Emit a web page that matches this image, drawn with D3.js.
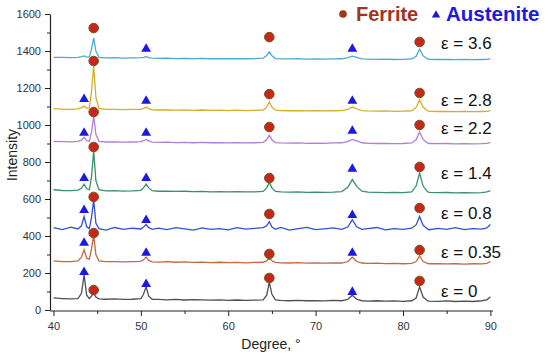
<!DOCTYPE html>
<html>
<head>
<meta charset="utf-8">
<script src="https://cdn.jsdelivr.net/npm/d3@7"></script>
<style>
  body { margin: 0; background: #fff; }
  svg { font-family: "Liberation Sans", Arial, sans-serif; }
</style>
</head>
<body>
<script>
// 2-theta grid shared by every pattern (denser around the peaks)
var degrees = [40, 41, 42, 42.8, 43.2, 43.5, 43.8, 44.1, 44.35, 44.6, 44.85, 45.2,
  46, 47, 48, 49, 50, 50.3, 50.6, 50.9, 51.3,
  52, 53, 54, 55, 56, 57, 58, 59, 60, 61, 62, 63, 64,
  64.4, 64.7, 65.0, 65.4, 66, 67, 68, 69, 70, 71, 72, 73,
  73.7, 74.2, 74.7, 75.3, 76, 77, 78, 79, 80, 81,
  81.5, 81.9, 82.3, 82.8, 83, 84, 85, 86, 87, 88, 89, 89.6, 90];

var strains = ["ε = 0", "ε = 0.35", "ε = 0.8", "ε = 1.4", "ε = 2.2", "ε = 2.8", "ε = 3.6"];

var eps0 = [65, 62, 60, 62, 90, 190, 80, 62, 75, 92, 70, 60,
  58, 60, 57, 58, 62, 85, 125, 75, 58,
  57, 55, 57, 54, 56, 55, 53, 55, 52, 54, 52, 53, 55,
  80, 150, 85, 55, 52, 50, 52, 50, 51, 49, 52, 50,
  58, 80, 58, 50, 48, 50, 48, 49, 47, 50,
  65, 125, 70, 50, 48, 47, 49, 46, 48, 46, 50, 55, 72];
var eps035 = [265, 262, 262, 265, 285, 325, 280, 275, 330, 405, 300, 266,
  262, 262, 260, 261, 263, 272, 287, 268, 260,
  259, 261, 258, 260, 257, 259, 256, 258, 256, 257, 255, 257, 258,
  265, 280, 266, 257, 255, 254, 256, 253, 255, 253, 254, 254,
  262, 285, 262, 254, 252, 253, 251, 252, 250, 252,
  262, 292, 262, 252, 250, 251, 249, 250, 248, 250, 249, 252, 262];
var eps08 = [445, 435, 448, 438, 455, 505, 450, 440, 500, 595, 470, 440,
  432, 446, 436, 442, 438, 448, 462, 445, 436,
  443, 434, 445, 438, 432, 444, 436, 440, 433, 445, 437, 441, 445,
  455, 478, 448, 436, 446, 432, 440, 447, 434, 439, 444, 436,
  450, 488, 450, 436, 440, 446, 433, 440, 436, 442,
  460, 505, 458, 438, 434, 441, 436, 445, 434, 440, 437, 444, 462];
var eps14 = [650, 646, 645, 648, 658, 680, 655, 650, 720, 860, 700, 650,
  644, 645, 643, 644, 647, 660, 680, 660, 645,
  642, 643, 641, 642, 640, 641, 639, 640, 638, 640, 638, 639, 641,
  660, 690, 660, 641, 638, 637, 638, 636, 637, 636, 637, 640,
  665, 705, 668, 642, 637, 636, 635, 636, 634, 638,
  670, 740, 670, 640, 636, 634, 635, 633, 634, 633, 634, 638, 645];
var eps22 = [912, 910, 909, 911, 918, 932, 915, 912, 960, 1050, 950, 912,
  908, 909, 907, 908, 910, 915, 922, 914, 907,
  906, 907, 905, 906, 904, 906, 904, 905, 903, 905, 903, 904, 906,
  920, 945, 920, 905, 903, 902, 903, 901, 902, 901, 903, 904,
  912, 922, 914, 904, 901, 900, 901, 899, 900, 903,
  920, 962, 922, 903, 900, 899, 900, 898, 899, 898, 899, 901, 906];
var eps28 = [1088, 1086, 1085, 1087, 1094, 1102, 1090, 1092, 1180, 1320, 1150, 1090,
  1085, 1084, 1083, 1084, 1085, 1090, 1097, 1088, 1082,
  1081, 1082, 1080, 1081, 1079, 1081, 1079, 1080, 1078, 1080, 1078, 1079, 1081,
  1098, 1125, 1097, 1080, 1078, 1077, 1078, 1076, 1077, 1076, 1077, 1078,
  1085, 1097, 1087, 1078, 1076, 1075, 1076, 1074, 1075, 1077,
  1095, 1135, 1097, 1077, 1074, 1073, 1074, 1072, 1073, 1072, 1073, 1074, 1078];
var eps36 = [1366, 1365, 1364, 1366, 1369, 1373, 1367, 1368, 1410, 1470, 1400, 1366,
  1363, 1364, 1362, 1363, 1364, 1366, 1369, 1364, 1361,
  1360, 1361, 1359, 1360, 1359, 1360, 1358, 1359, 1358, 1359, 1358, 1359, 1361,
  1375, 1395, 1374, 1359, 1357, 1357, 1358, 1356, 1357, 1356, 1357, 1358,
  1364, 1372, 1365, 1357, 1356, 1355, 1356, 1354, 1355, 1357,
  1372, 1410, 1374, 1357, 1355, 1354, 1355, 1353, 1354, 1353, 1354, 1355, 1358];

// phase peak positions and the heights of their markers, one row per pattern
var ferriteDeg = [44.6, 64.7, 81.9];
var austeniteDeg = [43.5, 50.6, 74.2];
var ferriteMarks = [[108, 173, 157], [416, 303, 324], [611, 519, 551], [881, 713, 773],
  [1070, 989, 1000], [1346, 1167, 1173], [1524, 1475, 1449]];
var austeniteMarks = [[205, 140, 97], [362, 308, 308], [540, 486, 513], [713, 713, 762],
  [957, 957, 968], [1140, 1130, 1130], [null, 1411, 1411]];

var xTicks = [40, 50, 60, 70, 80, 90];
var yTicks = [0, 200, 400, 600, 800, 1000, 1200, 1400, 1600];

var series = [eps0, eps035, eps08, eps14, eps22, eps28, eps36];
var colors = ["#505050", "#bf6a45", "#3550d8", "#3a9068", "#b07fd8", "#d2b02a", "#4aaad2"];
var labelAt = [103, 313, 524, 741, 984, 1135, 1443];

var svg = d3.select("body").append("svg")
  .attr("width", 550)
  .attr("height", 360);

var x = d3.scaleLinear().domain([39.6, 90.3]).range([50, 493]);
var y = d3.scaleLinear().domain([0, 1600]).range([310, 14]);

// axes
svg.append("g")
  .attr("class", "xaxis")
  .attr("transform", "translate(0,311)")
  .call(d3.axisBottom(x).tickValues(xTicks).tickSize(5).tickSizeOuter(0).tickPadding(6).tickFormat(d3.format("d")));
svg.append("g")
  .attr("transform", "translate(0,311)")
  .call(d3.axisBottom(x).tickValues([45, 55, 65, 75, 85]).tickSize(3).tickSizeOuter(0).tickFormat(""))
  .select(".domain").remove();
svg.append("g")
  .attr("transform", "translate(50,0)")
  .call(d3.axisLeft(y).tickValues(yTicks).tickSize(5).tickSizeOuter(0).tickPadding(4).tickFormat(d3.format("d")));
svg.append("g")
  .attr("transform", "translate(50,0)")
  .call(d3.axisLeft(y).tickValues(d3.range(100, 1600, 200)).tickSize(3).tickFormat(""))
  .select(".domain").remove();

svg.selectAll(".domain").attr("stroke", "#222").attr("stroke-width", 1.2);
svg.selectAll(".tick line").attr("stroke", "#222");
svg.selectAll(".tick text").attr("fill", "#333").style("font-size", "11px");
svg.select(".xaxis .domain").attr("d", "M50,0H493");

svg.append("text")
  .attr("transform", "translate(17,155) rotate(-90)")
  .attr("text-anchor", "middle")
  .style("font-size", "14px")
  .attr("fill", "#222")
  .text("Intensity");

svg.append("text")
  .attr("x", 271)
  .attr("y", 349)
  .attr("text-anchor", "middle")
  .style("font-size", "14px")
  .attr("fill", "#222")
  .text("Degree, °");

// diffraction patterns
var line = d3.line()
  .x(function (d, i) { return x(degrees[i]); })
  .y(function (d) { return y(d); });

svg.selectAll("path.pattern")
  .data(series)
  .enter()
  .append("path")
  .attr("class", "pattern")
  .attr("d", line)
  .attr("fill", "none")
  .attr("stroke", function (d, i) { return colors[i]; })
  .attr("stroke-width", 1.3);

// phase markers
var tri = d3.symbol().type(d3.symbolTriangle).size(42);
series.forEach(function (s, i) {
  austeniteMarks[i].forEach(function (v, j) {
    if (v === null) return;
    svg.append("path")
      .attr("d", tri)
      .attr("transform", "translate(" + x(austeniteDeg[j]) + "," + y(v) + ")")
      .attr("fill", "#1a1ae0");
  });
  ferriteMarks[i].forEach(function (v, j) {
    svg.append("circle")
      .attr("cx", x(ferriteDeg[j]))
      .attr("cy", y(v))
      .attr("r", 4.8)
      .attr("fill", "#c8261c")
      .attr("stroke", "#6e5a18")
      .attr("stroke-width", 1);
  });
  svg.append("text")
    .attr("x", 441)
    .attr("y", y(labelAt[i]))
    .attr("dy", "0.35em")
    .style("font-size", "17px")
    .attr("fill", "#111")
    .text(strains[i]);
});

// legend
svg.append("circle").attr("cx", 343).attr("cy", 14).attr("r", 3.8).attr("fill", "#9a3a1a");
svg.append("text")
  .attr("x", 356).attr("y", 21)
  .style("font-size", "20px").style("font-weight", "bold")
  .attr("fill", "#a3351e")
  .text("Ferrite");
svg.append("path")
  .attr("d", d3.symbol().type(d3.symbolTriangle).size(30))
  .attr("transform", "translate(436,15)")
  .attr("fill", "#1a1ae0");
svg.append("text")
  .attr("x", 446).attr("y", 21)
  .style("font-size", "20.5px").style("font-weight", "bold")
  .attr("fill", "#1a1ae0")
  .text("Austenite");
</script>
</body>
</html>
